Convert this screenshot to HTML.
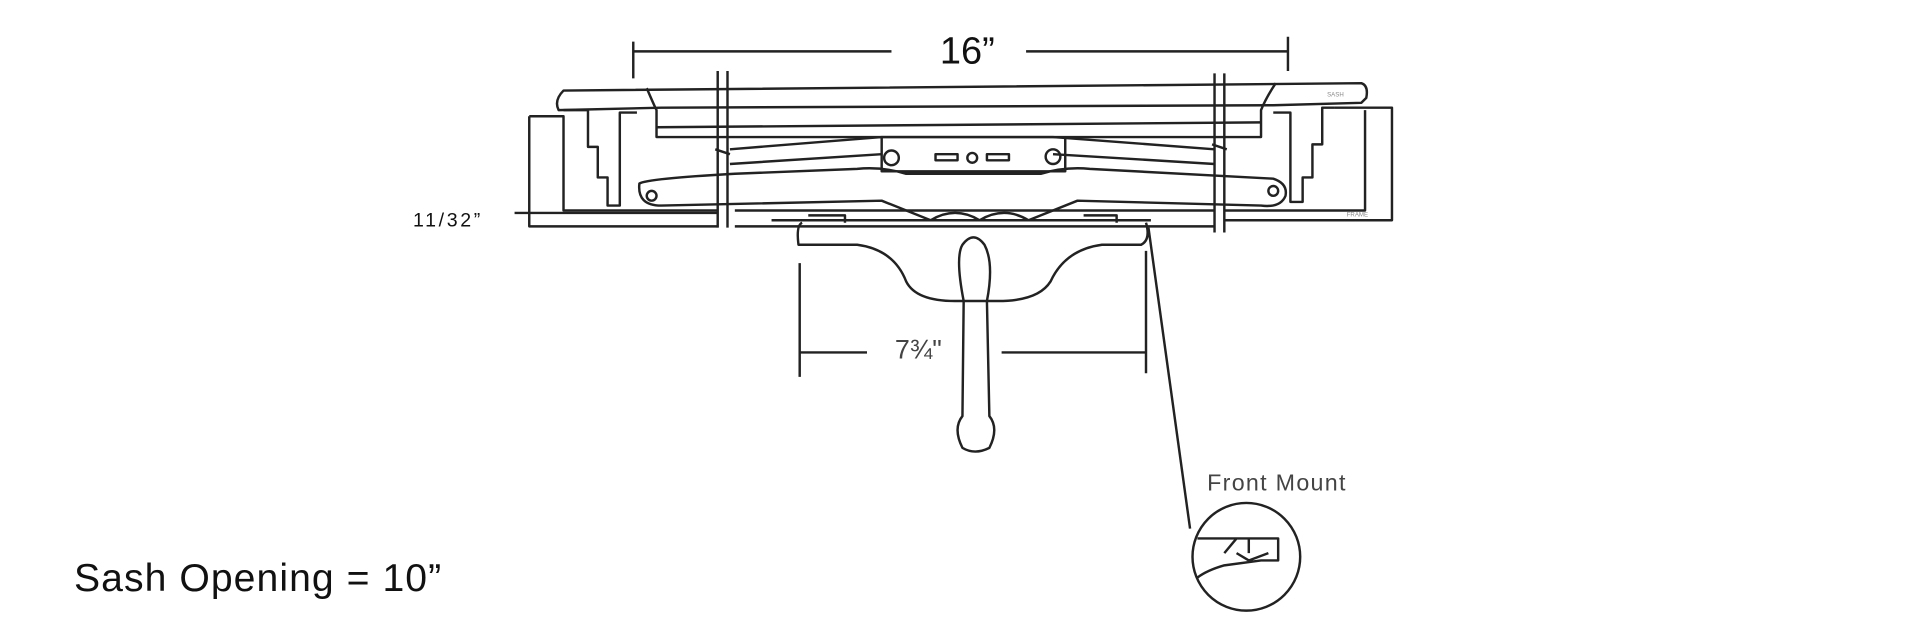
<!DOCTYPE html>
<html><head><meta charset="utf-8"><style>
html,body{margin:0;padding:0;background:#fff;width:1920px;height:640px;overflow:hidden}
svg{display:block}
text{font-family:"Liberation Sans",sans-serif}
</style></head><body>
<svg width="1920" height="640" viewBox="0 0 1568 523" xmlns="http://www.w3.org/2000/svg">
<g fill="none" stroke="#222" stroke-width="2" stroke-linejoin="round">
<path d="M517 42H728M838 42H1052M517 34V64M1052 30V58"/>
<path d="M460 74L1112 68Q1118 70 1116 80L1112 84 1040 86 540 88 456 90Q452 82 460 74Z"/>
<path d="M528 72Q534 86 536 90V112H1030V90Q1034 80 1042 68"/>
<path d="M536 104L1030 100"/>
<path d="M460 90H480V120H488V145H496V168H506V92H520"/>
<path d="M1090 88H1080V118H1072V145H1064V165H1054V92H1040"/>
<path d="M432 95H460V172H586M432 95V185H586"/>
<path d="M1090 88H1137V180H1000M1115 90V172H1000"/>
<path d="M420 174H586M600 172H992M600 185H992"/>
<path d="M586 58V186M594 58V186M992 60V190M1000 60V190"/>
<path d="M584 122L596 126M990 118L1002 122"/>
<path d="M596 122L720 112H860L992 122M596 134L720 126M860 126L992 134"/>
<path d="M720 112V140H870V112"/>
<circle cx="728" cy="129" r="6"/><circle cx="860" cy="128" r="6"/>
<rect x="764" y="126" width="18" height="5"/><rect x="806" y="126" width="18" height="5"/>
<circle cx="794" cy="129" r="4"/>
<path d="M522 150Q528 146 600 142L700 138Q720 136 740 142H850Q870 136 890 138L1040 146Q1052 150 1050 160Q1046 170 1030 168L880 164Q860 172 840 180Q820 168 800 180Q780 168 760 180Q740 172 720 164L540 168Q520 168 522 150Z"/>
<circle cx="532" cy="160" r="4"/><circle cx="1040" cy="156" r="4"/>
<path d="M630 180H940M655 182Q650 184 652 200H700Q730 204 740 230Q748 246 780 246H815Q848 246 858 230Q870 204 900 200H932Q940 196 936 182"/>
<path d="M660 176H690V182M885 176H912V182"/>
<path d="M787 246Q780 210 786 200Q795 188 804 200Q812 215 806 246L808 340Q816 350 808 366Q796 372 786 366Q778 350 786 340Z"/>
<path d="M653 215V308M936 205V305M653 288H708M818 288H936"/>
<path d="M938 186L972 432"/>
<circle cx="1018" cy="455" r="44"/>
<path d="M978 440H1044V458H1030L1000 462Q986 466 978 472M1000 452L1010 440M1020 440V452M1010 452L1020 458L1036 452"/>
</g>
<text x="790" y="52" font-size="31" text-anchor="middle" fill="#111">16”</text>
<text x="750" y="293" font-size="22" text-anchor="middle" fill="#444">7¾"</text>
<text x="986" y="401" font-size="19" fill="#444" textLength="113">Front Mount</text>
<text x="337" y="185" font-size="16" fill="#111" textLength="55">11/32”</text>
<text x="60" y="483" font-size="32" fill="#111" textLength="300">Sash Opening = 10”</text>
<text x="1084" y="79" font-size="5" fill="#888">SASH</text>
<text x="1100" y="177" font-size="5" fill="#888">FRAME</text>
</svg>
</body></html>
